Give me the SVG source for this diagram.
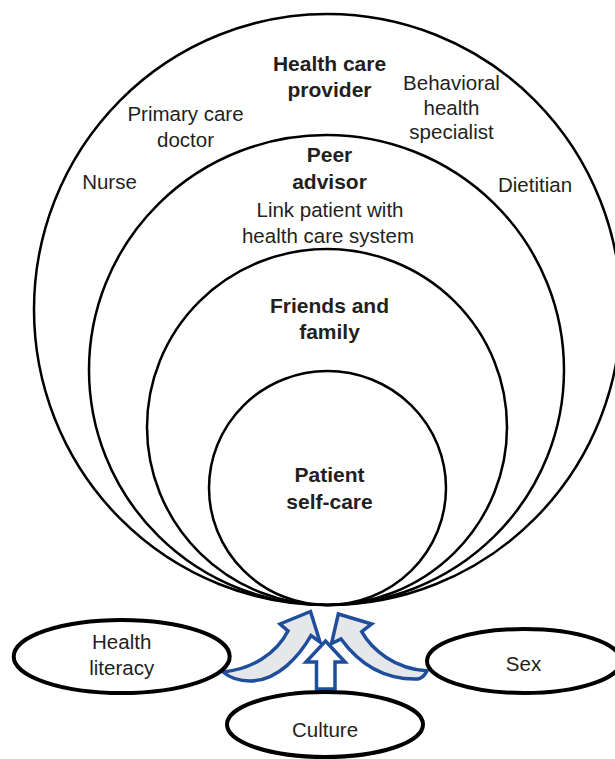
<svg xmlns="http://www.w3.org/2000/svg" width="615" height="759" viewBox="0 0 615 759">
  <style>
    .ring { fill: none; stroke: #000; stroke-width: 2.5; }
    .factor { fill: #fff; stroke: #000; stroke-width: 4; }
    .t { font-family: "Liberation Sans", Arial, sans-serif; font-size: 20.5px; fill: #231f20; text-anchor: middle; }
    .b { font-weight: bold; font-size: 21px; }
    .arr { stroke: #1f4e9d; stroke-width: 3.5; stroke-linejoin: miter; }
    .curved { fill: #e6e7e8; }
    .straight { fill: #fff; }
  </style>
  <rect width="615" height="759" fill="#fff"/>

  <g id="health-care-provider">
    <ellipse class="ring" cx="327.5" cy="309.5" rx="293.5" ry="295.5"/>
    <text class="t b" x="329.5" y="70.5">Health care</text>
    <text class="t b" x="329.5" y="96.5">provider</text>
    <text class="t" x="185.5" y="120.5">Primary care</text>
    <text class="t" x="185.5" y="146.5">doctor</text>
    <text class="t" x="451.5" y="90">Behavioral</text>
    <text class="t" x="451.5" y="114.5">health</text>
    <text class="t" x="451.5" y="139">specialist</text>
    <text class="t" x="109.5" y="188.5">Nurse</text>
    <text class="t" x="535" y="191.5">Dietitian</text>
  </g>

  <g id="peer-advisor">
    <ellipse class="ring" cx="326.5" cy="370" rx="237.5" ry="235"/>
    <text class="t b" x="329.5" y="161.5">Peer</text>
    <text class="t b" x="329.5" y="188.5">advisor</text>
    <text class="t" x="330" y="216.5">Link patient with</text>
    <text class="t" x="328" y="242.5">health care system</text>
  </g>

  <g id="friends-and-family">
    <ellipse class="ring" cx="327" cy="427" rx="180" ry="178"/>
    <text class="t b" x="329.5" y="312.5">Friends and</text>
    <text class="t b" x="329.5" y="338.5">family</text>
  </g>

  <g id="patient-self-care">
    <ellipse class="ring" cx="327.5" cy="488" rx="118.5" ry="117"/>
    <text class="t b" x="329.5" y="481.5">Patient</text>
    <text class="t b" x="329.5" y="508.5">self-care</text>
  </g>

  <g id="connectors">
    <path class="arr curved" d="M 310.5 611.5 L 320 642 L 311 635.5 C 300 655, 278 681, 250 681 C 238 681, 229 677, 223 672 C 252 669, 276 654, 288 631 L 280 624 Z"/>
    <path class="arr curved" d="M 338.3 614 L 371.7 624 L 361.7 631.7 C 372 650, 395 669, 427 670.7 C 425 675, 422 678, 418 679 C 385 680, 360 665, 341 639 L 331.5 643.5 Z"/>
    <path class="arr straight" d="M 325.5 641 L 345 662 L 335 662 L 335 689 L 316.5 689 L 316.5 662 L 306 662 Z"/>
  </g>

  <g id="health-literacy">
    <ellipse class="factor" cx="121.7" cy="656.5" rx="108" ry="36.5"/>
    <text class="t" x="121.7" y="649">Health</text>
    <text class="t" x="121.7" y="675">literacy</text>
  </g>

  <g id="sex">
    <ellipse class="factor" cx="524" cy="661" rx="97" ry="32"/>
    <text class="t" x="523.5" y="671">Sex</text>
  </g>

  <g id="culture">
    <ellipse class="factor" cx="325" cy="724.5" rx="98" ry="32.5"/>
    <text class="t" x="325" y="737">Culture</text>
  </g>
</svg>
